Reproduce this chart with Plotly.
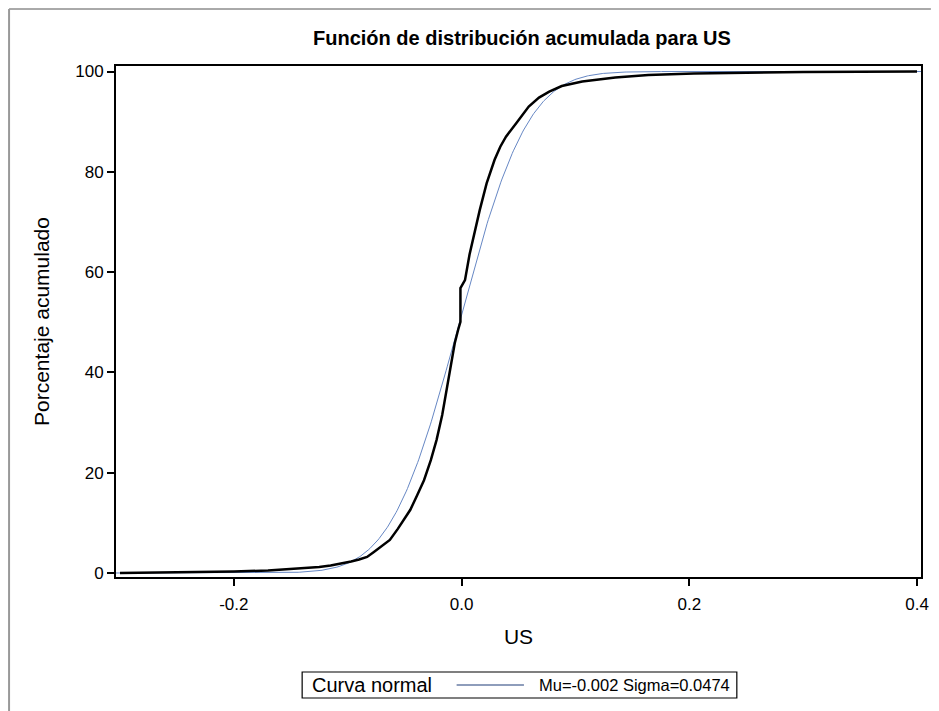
import math
import plotly.graph_objects as go

# Empirical cumulative distribution of US (x value, cumulative percent)
ecdf_x = [-0.300, -0.250, -0.200, -0.170, -0.143, -0.125, -0.115, -0.105, -0.097,
          -0.090, -0.083, -0.077, -0.071, -0.063, -0.056, -0.050, -0.045, -0.039,
          -0.033, -0.027, -0.022, -0.017, -0.013, -0.009, -0.006, -0.003, -0.001,
          -0.001, 0.003, 0.007, 0.010, 0.016, 0.022, 0.029, 0.034, 0.039, 0.048,
          0.059, 0.068, 0.077, 0.088, 0.106, 0.135, 0.164, 0.204, 0.300, 0.400]
ecdf_pct = [0.0, 0.1, 0.3, 0.5, 0.9, 1.2, 1.5, 1.9, 2.3,
            2.7, 3.2, 4.2, 5.2, 6.6, 8.8, 10.8, 12.6, 15.5,
            18.5, 22.5, 26.5, 31.5, 36.5, 41.5, 45.8, 48.5, 50.1,
            56.8, 58.4, 63.5, 66.5, 72.4, 77.7, 82.4, 85.0, 87.0, 89.7,
            93.0, 94.8, 96.0, 97.1, 98.0, 98.8, 99.3, 99.6, 99.9, 100.0]

# Fitted normal parameters, as printed in the legend
MU = -0.002
SIGMA = 0.0474

x_ticks = [-0.2, 0.0, 0.2, 0.4]
x_tick_labels = ["-0.2", "0.0", "0.2", "0.4"]
y_ticks = [0, 20, 40, 60, 80, 100]
y_tick_labels = ["0", "20", "40", "60", "80", "100"]

# Normal CDF evaluated along the axis span
norm_x = [-0.3035 + i * 0.001 for i in range(708)]
norm_pct = [100 * 0.5 * (1 + math.erf((v - MU) / (SIGMA * math.sqrt(2)))) for v in norm_x]

FONT = "Arial, Liberation Sans, sans-serif"
NORMAL_COLOR = "#6687c4"
LEGEND_LINE = "#1f3c78"

fig = go.Figure()
fig.add_trace(go.Scatter(x=norm_x, y=norm_pct, mode="lines",
                         line=dict(color=NORMAL_COLOR, width=1),
                         name="Mu=-0.002 Sigma=0.0474", showlegend=False))
fig.add_trace(go.Scatter(x=ecdf_x, y=ecdf_pct, mode="lines",
                         line=dict(color="black", width=2.5),
                         name="US", showlegend=False))

# paper-coordinate helpers (plot area: x 116..929 px, y 66..577 px)
def px(v):
    return (v - 116) / 813.0

def py(v):
    return (577 - v) / 511.0

shapes = [
    # outer frame (top and left)
    dict(type="line", xref="paper", yref="paper", x0=px(8), x1=px(939), y0=py(9), y1=py(9),
         line=dict(color="#555555", width=1)),
    dict(type="line", xref="paper", yref="paper", x0=px(8), x1=px(8), y0=py(9), y1=py(711),
         line=dict(color="#999999", width=2)),
    # legend box and sample line
    dict(type="rect", xref="paper", yref="paper", x0=px(304), x1=px(743), y0=py(698), y1=py(672),
         line=dict(color="black", width=1.2), fillcolor="white"),
    dict(type="line", xref="paper", yref="paper", x0=px(460), x1=px(528), y0=py(685), y1=py(685),
         line=dict(color=LEGEND_LINE, width=1.2)),
]

annotations = [
    dict(text="Curva normal", xref="paper", yref="paper", x=px(312), y=py(685),
         xanchor="left", yanchor="middle", showarrow=False,
         font=dict(family=FONT, size=20, color="black")),
    dict(text="Mu=-0.002 Sigma=0.0474", xref="paper", yref="paper", x=px(738), y=py(685),
         xanchor="right", yanchor="middle", showarrow=False,
         font=dict(family=FONT, size=16.5, color="black")),
]

fig.update_layout(
    width=939, height=711,
    margin=dict(l=116, r=10, t=66, b=134),
    paper_bgcolor="white", plot_bgcolor="white",
    font=dict(family=FONT, color="black"),
    title=dict(text="<b>Función de distribución acumulada para US</b>",
               xref="paper", x=px(526), xanchor="center",
               yref="container", y=1 - 38 / 711, yanchor="middle",
               font=dict(family=FONT, size=20, color="black")),
    xaxis=dict(range=[-0.3035, 0.4035], tickvals=x_ticks, ticktext=x_tick_labels,
               ticks="outside", ticklen=7, tickwidth=1.5, tickcolor="black",
               ticklabelstandoff=4,
               showline=True, linecolor="black", linewidth=2, mirror=True,
               showgrid=False, zeroline=False,
               tickfont=dict(family=FONT, size=17, color="black"),
               title=dict(text="US", standoff=16,
                          font=dict(family=FONT, size=21, color="black"))),
    yaxis=dict(range=[-0.8, 101.1], tickvals=y_ticks, ticktext=y_tick_labels,
               ticks="outside", ticklen=7, tickwidth=1.5, tickcolor="black",
               showline=True, linecolor="black", linewidth=2, mirror=True,
               showgrid=False, zeroline=False,
               tickfont=dict(family=FONT, size=17, color="black"),
               title=dict(text="Porcentaje acumulado", standoff=20,
                          font=dict(family=FONT, size=21, color="black"))),
    shapes=shapes,
    annotations=annotations,
)

fig.write_html("out.html")
